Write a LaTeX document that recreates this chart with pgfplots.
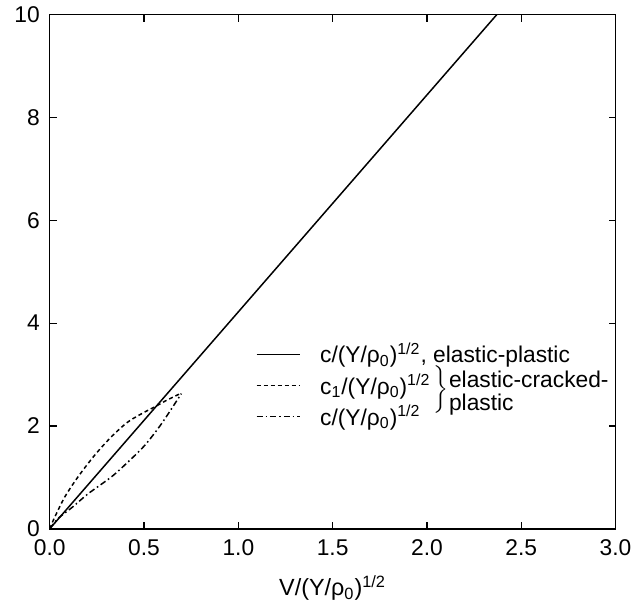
\documentclass[border=0pt]{standalone}
\usepackage{fontspec}
\setmainfont{Liberation Sans}
\usepackage{pgfplots}
\pgfplotsset{compat=1.18}

\newcommand{\rz}{(Y/ρ\textsubscript{0})\textsuperscript{1/2}}

\begin{document}
\begin{tikzpicture}
  \begin{axis}[
      scale only axis, width=284.5bp, height=258.5bp,
      xmin=0, xmax=3, ymin=0, ymax=10,
      xtick={0,0.5,1,1.5,2,2.5,3}, ytick={0,2,4,6,8,10},
      tick align=inside, major tick length=3.5bp,
      /pgf/number format/assume math mode=true,
      xticklabel style={/pgf/number format/fixed, /pgf/number format/fixed zerofill,
                        /pgf/number format/precision=1, yshift=-2bp},
      yticklabel style={xshift=-1.5bp},
      tick label style={font=\fontsize{11.5}{13}\selectfont},
      xlabel={V/\rz},
      xlabel style={font=\fontsize{11.8}{13}\selectfont, yshift=-3bp},
      axis line style={line width=0.75bp},
      every tick/.style={line width=0.6bp, black},
      legend style={draw=none, fill=none, at={(axis cs:1.06,3.78)}, anchor=north west,
                    font=\fontsize{11.5}{12}\selectfont, cells={anchor=west}, row sep=0bp,
                    /tikz/every odd column/.append style={column sep=7.5bp}},
      legend image code/.code={\draw[#1] (0bp,0bp) -- (22bp,0bp);},
    ]
    % elastic-plastic
    \addplot[black, line width=0.75bp] coordinates {(0,0) (2.37,10)};
    \addlegendentry{c/\rz, elastic-plastic}
    % c1, elastic-cracked-plastic
    \addplot[black, line width=0.75bp, dash pattern=on 2bp off 1.5bp, smooth] coordinates {
      (0,0) (0.027,0.23) (0.08,0.62) (0.15,1.01) (0.238,1.43) (0.327,1.79)
      (0.415,2.08) (0.503,2.27) (0.556,2.37) (0.62,2.50) (0.698,2.64)};
    \addlegendentry{c\textsubscript{1}/\rz}
    % c, elastic-cracked-plastic
    \addplot[black, line width=0.75bp, dash pattern=on 3bp off 1.5bp on 0.8bp off 1.5bp, smooth] coordinates {
      (0,0) (0.044,0.2) (0.12,0.42) (0.203,0.68) (0.327,1.01) (0.415,1.30)
      (0.503,1.62) (0.592,2.04) (0.698,2.63)};
    \addlegendentry{c/\rz}
    \node[inner sep=0pt] at (axis cs:2.07,2.69) {$\left.\rule[-10bp]{0pt}{20bp}\right\}$};
    \node[anchor=west, align=left, inner sep=0pt, font=\fontsize{11.5}{12}\selectfont]
      at (axis cs:2.115,2.64) {elastic-cracked-\\plastic};
  \end{axis}
  \path (current axis.south west) ++(-25bp,-39.5bp) coordinate (bl);
  \path (current axis.north east) ++(9.5bp,6.5bp) coordinate (tr);
  \path (bl) rectangle (tr);
\end{tikzpicture}
\end{document}
